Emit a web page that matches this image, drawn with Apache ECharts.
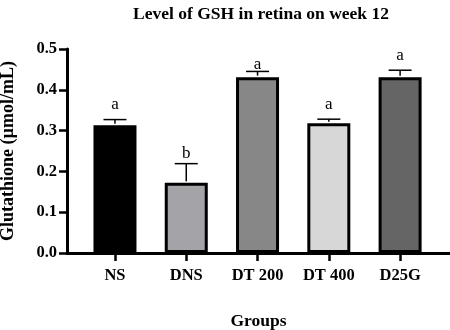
<!DOCTYPE html>
<html>
<head>
<meta charset="utf-8">
<script src="https://cdn.jsdelivr.net/npm/echarts@6/dist/echarts.min.js"></script>
<style>
    html, body { margin: 0; padding: 0; background: #fff; }
    #chart { width: 450px; height: 330px; }
</style>
</head>
<body>
<div id="chart"></div>
<script>
const groups = ["NS", "DNS", "DT 200", "DT 400", "D25G"];
const means = [0.313, 0.172, 0.431, 0.318, 0.431];
const errors = [0.014, 0.047, 0.014, 0.010, 0.017];
const letters = ["a", "b", "a", "a", "a"];
const letterY = [0.365, 0.243, 0.463, 0.363, 0.485];
const barColors = ["#000000", "#a3a3a8", "#878787", "#d7d7d7", "#656565"];

const font = "Liberation Serif";
const chart = echarts.init(document.getElementById("chart"));

const option = {
    animation: false,
    title: {
        text: "Level of GSH in retina on week 12",
        left: 256,
        top: 0,
        textAlign: "center",
        textStyle: { fontFamily: font, fontWeight: "bold", fontSize: 17.5, color: "#000" },
    },
    grid: { left: 67, right: 0, top: 49, bottom: 77, containLabel: false, outerBoundsMode: "none" },
    xAxis: {
        type: "value",
        min: -0.673,
        max: 4.7,
        splitLine: { show: false },
        axisLine: { onZero: false, lineStyle: { color: "#000", width: 3 } },
        axisTick: { show: true, customValues: [0, 1, 2, 3, 4], length: 8, lineStyle: { color: "#000", width: 2.5 } },
        axisLabel: {
            customValues: [0, 1, 2, 3, 4],
            formatter: (v) => groups[Math.round(v)],
            margin: 14,
            fontFamily: font, fontWeight: "bold", fontSize: 16.5, color: "#000",
        },
        name: "Groups",
        nameLocation: "middle",
        nameGap: 59,
        nameTextStyle: { fontFamily: font, fontWeight: "bold", fontSize: 17.5, color: "#000" },
    },
    yAxis: {
        type: "value",
        min: 0,
        max: 0.5,
        interval: 0.1,
        splitLine: { show: false },
        axisLine: { show: true, onZero: false, lineStyle: { color: "#000", width: 3 } },
        axisTick: { show: true, length: 8, lineStyle: { color: "#000", width: 2.5 } },
        axisLabel: {
            margin: 10,
            formatter: (v) => v.toFixed(1),
            fontFamily: font, fontWeight: "bold", fontSize: 16.5, color: "#000",
        },
        name: "Glutathione (µmol/mL)",
        nameLocation: "middle",
        nameGap: 50,
        nameTextStyle: { fontFamily: font, fontWeight: "bold", fontSize: 18, color: "#000" },
    },
    series: [
        {
            type: "bar",
            barWidth: 43,
            data: means.map((v, i) => ({
                value: [i, v],
                itemStyle: { color: barColors[i], borderColor: "#000", borderWidth: 3 },
            })),
            z: 3,
        },
        {
            type: "custom",
            data: means.map((v, i) => [i, v, errors[i], letterY[i]]),
            renderItem: function (params, api) {
                const x = api.value(0);
                const base = api.coord([x, api.value(1)]);
                const top = api.coord([x, api.value(1) + api.value(2)]);
                const lab = api.coord([x, api.value(3)]);
                const half = 11.5;
                return {
                    type: "group",
                    children: [
                        { type: "line", shape: { x1: base[0], y1: base[1] - 1.5, x2: top[0], y2: top[1] }, style: { stroke: "#000", lineWidth: 1.5 } },
                        { type: "line", shape: { x1: top[0] - half, y1: top[1], x2: top[0] + half, y2: top[1] }, style: { stroke: "#000", lineWidth: 1.5 } },
                        {
                            type: "text",
                            x: lab[0], y: lab[1],
                            style: {
                                text: letters[params.dataIndex],
                                fontFamily: font, fontSize: 17, fill: "#000",
                                align: "center", verticalAlign: "middle",
                            },
                        },
                    ],
                };
            },
            z: 4,
        },
    ],
};
chart.setOption(option);
</script>
</body>
</html>
